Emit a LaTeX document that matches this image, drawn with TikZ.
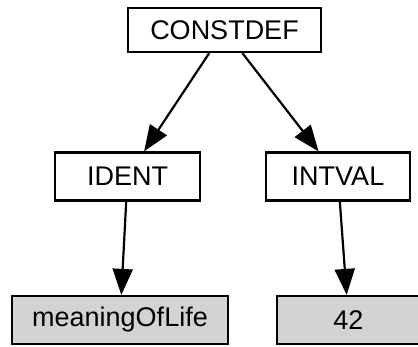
\documentclass[tikz,border=0pt]{standalone}
\usepackage{fontspec}
\setmainfont{Liberation Sans}
\usetikzlibrary{arrows.meta}
\definecolor{boxgray}{RGB}{211,211,211}
\begin{document}
\begin{tikzpicture}[x=1pt,y=-1pt,
  treebox/.style={draw=black, line width=2.2pt, fill=white, rectangle,
    inner sep=0pt, minimum height=48pt,
    font=\fontsize{27}{32}\selectfont},
  leafbox/.style={treebox, fill=boxgray},
  edge/.style={draw=black, line width=2.2pt,
    -{Triangle[length=26pt,width=20pt]}}]
  \useasboundingbox (0,0) rectangle (418,346);
  \clip (0,0) rectangle (418,346);
  \node[treebox, minimum width=193pt, minimum height=44pt] (constdef) at (224.5,30) {CONSTDEF};
  \node[treebox, minimum width=145pt] (ident) at (127.5,176.5) {IDENT};
  \node[treebox, minimum width=144pt] (intval) at (338,176.5) {INTVAL};
  \node[leafbox, minimum width=216pt] (name) at (120,320) {meaningOfLife};
  \node[leafbox, minimum width=143pt] (value) at (348.5,320) {42};
  \draw[edge] (constdef) -- (ident);
  \draw[edge] (constdef) -- (intval);
  \draw[edge] (ident) -- (name);
  \draw[edge] (intval) -- (value);
\end{tikzpicture}
\end{document}
